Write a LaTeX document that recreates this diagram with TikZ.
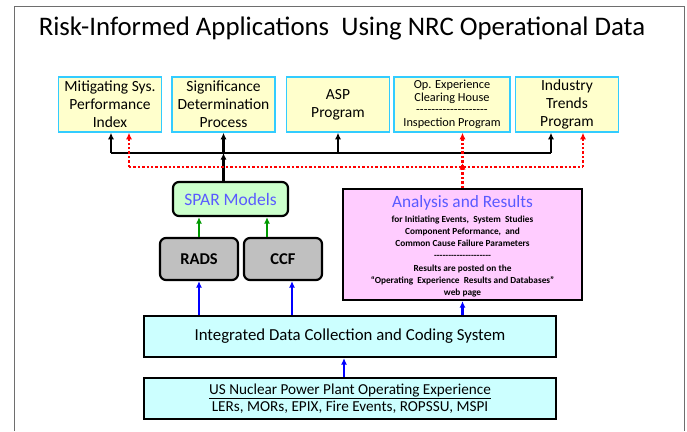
\documentclass[tikz,border=0pt]{standalone}
\usepackage{fontspec}
\setmainfont{Carlito}
\usetikzlibrary{arrows.meta}
\definecolor{ybox}{RGB}{255,255,204}
\definecolor{cyb}{RGB}{51,204,255}
\definecolor{sparfill}{RGB}{204,255,204}
\definecolor{graybox}{RGB}{192,192,192}
\definecolor{pinkfill}{RGB}{255,204,255}
\definecolor{cyanfill}{RGB}{204,255,255}
\definecolor{ttl}{RGB}{90,90,255}
\definecolor{grn}{RGB}{0,153,0}
\definecolor{frm}{RGB}{110,110,110}
\newcommand\hyline[1]{\foreach \i in {1,...,#1}{\hbox{-}}}
\begin{document}
\begin{tikzpicture}[x=1pt,y=-1pt,
  appbox/.style={draw=cyb,line width=1.5pt,fill=ybox,minimum width=103pt,minimum height=55pt,align=center,inner sep=1pt,font=\fontsize{15.5}{18}\selectfont},
  rbox/.style={draw=black,line width=2.2pt,rounded corners=6pt,align=center},
  sqbox/.style={draw=black,line width=2.2pt,align=center},
  tip/.style={-{Latex[length=6.5pt,width=6pt]}},
  blk/.style={draw=black,line width=2.2pt},
  rdot/.style={draw=red,line width=2.4pt,dotted},
  blu/.style={draw=blue,line width=2.2pt,tip},
  gr/.style={draw=grn,line width=2.2pt,tip}]
\useasboundingbox (0,0) rectangle (687,431);
\draw[frm,line width=0.8pt] (14,431) -- (14,6) -- (684,6) -- (684,431);
\node[font=\fontsize{26.8}{30}\selectfont] (title) at (342,28) {Risk-Informed Applications\ \ Using NRC Operational Data};

\node[appbox] (b1) at (110,104.5) {Mitigating Sys.\\Performance\\Index};
\node[appbox] (b2) at (223.5,104.5) {Significance\\Determination\\Process};
\node[appbox] (b3) at (338,104.5) {ASP\\Program};
\node[appbox,minimum width=116pt,font=\fontsize{12.3}{12.5}\selectfont] (b4) at (452,104.5) {Op. Experience\\Clearing House\\\hyline{19}\\Inspection Program};
\node[appbox] (b5) at (567,104.5) {Industry\\Trends\\Program};

\node[rbox,fill=sparfill,minimum width=115pt,minimum height=34pt,text=ttl,font=\fontsize{17.5}{19}\selectfont] (spar) at (230.5,199) {SPAR Models};
\node[rbox,fill=graybox,minimum width=78pt,minimum height=42pt,font=\bfseries\fontsize{16.5}{18}\selectfont] (rads) at (199,259) {RADS};
\node[rbox,fill=graybox,minimum width=78pt,minimum height=42pt,font=\bfseries\fontsize{16.5}{18}\selectfont] (ccf) at (283,259) {CCF};

\node[sqbox,fill=pinkfill,minimum width=239pt,minimum height=111pt] (anal) at (462.5,244.5) {};
\node[text=ttl,font=\fontsize{17.3}{19}\selectfont,inner sep=0pt] (analt) at (462.5,203) {Analysis and Results};
\node[align=center,font=\bfseries\fontsize{9.3}{12.3}\selectfont,inner sep=0pt] (analb) at (462.5,256.5) {for Initiating Events,\ \ System\ \ Studies\\Component Peformance,\ \ and\\Common Cause Failure Parameters\\\hyline{20}\\Results are posted on the\\“Operating\ \ Experience\ \ Results and Databases”\\web page};

\node[sqbox,fill=cyanfill,minimum width=412pt,minimum height=41pt,font=\fontsize{16.8}{18}\selectfont] (integ) at (350,336.5) {Integrated Data Collection and Coding System};
\node[sqbox,fill=cyanfill,minimum width=412pt,minimum height=41pt,font=\fontsize{15.2}{17}\selectfont,inner sep=1pt] (us) at (350,398.5) {\underline{US Nuclear Power Plant Operating Experience}\\LERs, MORs, EPIX, Fire Events, ROPSSU, MSPI};

% black connectors
\coordinate (hl) at (111,153);
\coordinate (hr) at (551,153);
\draw[blk] (hl) -- (hr);
\draw[blk,tip] (hl) -- (b1.south -| hl);
\draw[blk,tip] (hr) -- (b5.south -| hr);
\draw[blk,tip] (spar.north -| b2.south) -- (b2.south |- hl);
\draw[blk,tip] (b2.south |- hl) -- (b2.south);
\draw[blk,tip] (b3.south |- hl) -- (b3.south);

% red dotted connectors
\coordinate (rl) at (129,167);
\coordinate (rr) at (583,167);
\draw[rdot] (rl) -- (rr);
\draw[rdot,tip] (rl) -- (b1.south -| rl);
\draw[rdot,tip] (rr) -- (b5.south -| rr);
\draw[rdot,tip] (anal.north |- rl) -- (anal.north |- b4.south);
\draw[rdot,tip] (anal.north) -- ([yshift=4pt]anal.north |- rl);

% green
\draw[gr] (rads.north) -- (rads.north |- spar.south);
\draw[gr] ([xshift=-16pt]ccf.north) -- ([xshift=-16pt]ccf.north |- spar.south);

% blue
\draw[blu] (rads.south |- integ.north) -- (rads.south);
\draw[blu] ([xshift=9pt]ccf.south |- integ.north) -- ([xshift=9pt]ccf.south);
\draw[blu] (anal.south |- integ.north) -- (anal.south);
\draw[blu] ([xshift=-6pt]us.north) -- ([xshift=-6pt]integ.south);
\end{tikzpicture}
\end{document}
